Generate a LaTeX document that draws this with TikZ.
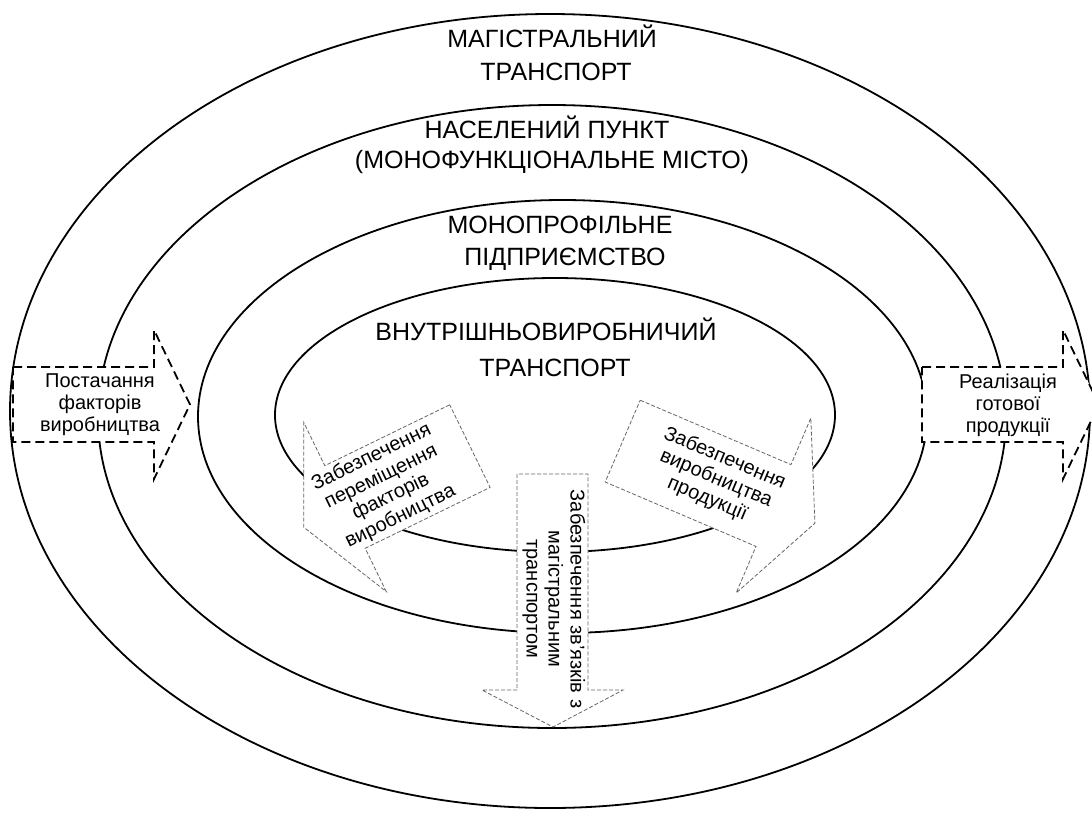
\documentclass[tikz,border=0pt]{standalone}
\usepackage{fontspec}
\setmainfont{Liberation Sans}
\begin{document}
\begin{tikzpicture}[x=1pt,y=-1pt,
  ring/.style={draw=black,line width=1.8pt},
  ringlabel/.style={font=\fontsize{25}{33}\selectfont,anchor=base,inner sep=0pt},
  flowtext/.style={font=\fontsize{20}{22}\selectfont,align=center,inner sep=0pt},
  flowarrow/.style={draw=black,fill=white,line width=1.8pt,dash pattern=on 9pt off 5pt,line join=miter},
  taskarrow/.style={draw=black!60,fill=white,line width=0.8pt,dash pattern=on 4pt off 2pt},
]
\useasboundingbox (0,0) rectangle (1092,812);
\fill[white] (0,0) rectangle (1092,812);

% nested zones
\draw[ring] (550,411) ellipse [x radius=540pt, y radius=397pt];
\draw[ring] (552,416.5) ellipse [x radius=454pt, y radius=311.5pt];
\draw[ring] (562.5,416.5) ellipse [x radius=364.5pt, y radius=216.5pt];
\draw[ring] (555,415) ellipse [x radius=280pt, y radius=137pt];

% zone titles
\node[ringlabel] (trunk1) at (552,47) {МАГІСТРАЛЬНИЙ};
\node[ringlabel] (trunk2) at (556,80) {ТРАНСПОРТ};
\node[ringlabel] (town1) at (547,138) {НАСЕЛЕНИЙ ПУНКТ};
\node[ringlabel] (town2) at (552,168) {(МОНОФУНКЦІОНАЛЬНЕ МІСТО)};
\node[ringlabel] (firm1) at (560,233) {МОНОПРОФІЛЬНЕ};
\node[ringlabel] (firm2) at (565,265) {ПІДПРИЄМСТВО};
\node[ringlabel] (intra1) at (546,340) {ВНУТРІШНЬОВИРОБНИЧИЙ};
\node[ringlabel] (intra2) at (555,376) {ТРАНСПОРТ};

% incoming flow (left)
\coordinate (inA1) at (13,367);  \coordinate (inB1) at (154,367);
\coordinate (inH1) at (154,330); \coordinate (inT)  at (190,404.5);
\coordinate (inH2) at (154,479); \coordinate (inB2) at (154,442);
\coordinate (inA2) at (13,442);
\draw[flowarrow] (inA1) -- (inB1) -- (inH1) -- (inT) -- (inH2) -- (inB2) -- (inA2) -- cycle;
\node[flowtext] (supply) at (100,405) {Постачання\\факторів\\виробництва};

% outgoing flow (right)
\coordinate (outA1) at (922,367);  \coordinate (outB1) at (1063,367);
\coordinate (outH1) at (1063,330); \coordinate (outT)  at (1099,404.5);
\coordinate (outH2) at (1063,479); \coordinate (outB2) at (1063,442);
\coordinate (outA2) at (922,442);
\draw[flowarrow] (outA1) -- (outB1) -- (outH1) -- (outT) -- (outH2) -- (outB2) -- (outA2) -- cycle;
\node[flowtext] (sales) at (1008,405) {Реалізація\\готової\\продукції};

% internal task: moving production factors
\coordinate (mvA1) at (449.7,404.8); \coordinate (mvB1) at (324.8,465.7);
\coordinate (mvH1) at (303.8,422.5); \coordinate (mvT)  at (303.7,527.2);
\coordinate (mvH2) at (386.2,591.5); \coordinate (mvB2) at (365.2,548.3);
\coordinate (mvA2) at (490.1,487.4);
\draw[taskarrow] (mvA1) -- (mvB1) -- (mvH1) -- (mvT) -- (mvH2) -- (mvB2) -- (mvA2) -- cycle;
\node[flowtext,rotate=26] (move) at (386,487) {Забезпечення\\переміщення\\факторів\\виробництва};

% internal task: production support
\coordinate (prA1) at (640.2,400.2); \coordinate (prB1) at (791.0,464.6);
\coordinate (prH1) at (810.8,418.1); \coordinate (prT)  at (814.9,523.2);
\coordinate (prH2) at (736.2,592.9); \coordinate (prB2) at (756.0,546.4);
\coordinate (prA2) at (605.2,482.0);
\draw[taskarrow] (prA1) -- (prB1) -- (prH1) -- (prT) -- (prH2) -- (prB2) -- (prA2) -- cycle;
\node[flowtext,rotate=-23] (produce) at (716,479) {Забезпечення\\виробництва\\продукції};

% internal task: link to trunk transport
\coordinate (lkA1) at (517,474); \coordinate (lkB1) at (517,690);
\coordinate (lkH1) at (482,690); \coordinate (lkT)  at (553,727);
\coordinate (lkH2) at (623,690); \coordinate (lkB2) at (588,690);
\coordinate (lkA2) at (588,474);
\draw[taskarrow] (lkA1) -- (lkB1) -- (lkH1) -- (lkT) -- (lkH2) -- (lkB2) -- (lkA2) -- cycle;
\node[flowtext,rotate=-90] (link) at (554,599) {Забезпечення зв’язків з\\магістральним\\транспортом};
\end{tikzpicture}
\end{document}
